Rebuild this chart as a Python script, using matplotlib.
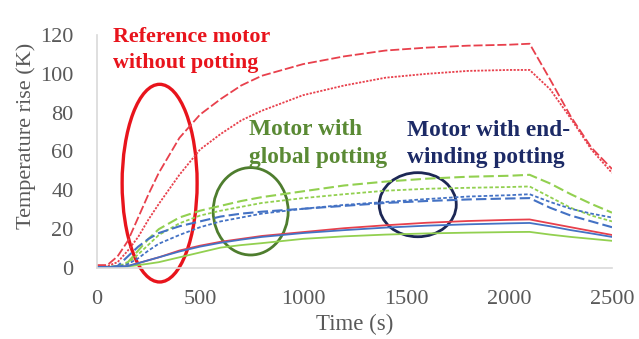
import matplotlib
matplotlib.use("Agg")
import matplotlib.pyplot as plt
from matplotlib.patches import Ellipse

plt.rcParams['font.family'] = ['Liberation Serif', 'DejaVu Serif']

# time grid (s)
t = [0, 50, 100, 150, 200, 250, 300, 400, 500, 600, 700, 800, 1000, 1200, 1400,
     1600, 1800, 2000, 2100, 2200, 2300, 2400, 2500]

# Reference motor without potting
ref_dash = [1.5, 1.5, 6, 14, 26, 38, 49, 67, 79, 87, 94, 99, 105, 109, 112,
            113.5, 114.5, 115, 115.5, 97, 78, 62, 51]
ref_dot = [1, 1, 3, 9, 16, 25, 33, 48, 61, 69, 76, 81, 89, 94, 98,
           100, 101.5, 102, 102, 92, 77, 61, 49]
ref_solid = [0.5, 0.5, 0.5, 1, 2.5, 4, 5.5, 9, 11.5, 13.5, 15, 16.5, 18.5, 20.5, 22,
             23.3, 24.2, 24.8, 25, 23, 21, 19, 17]

# Motor with global potting
glob_dash = [0.5, 0.5, 1, 3, 9, 15, 20, 26, 29.5, 32, 34.5, 36.5, 39.5, 42.5, 44.5,
             46, 47, 47.5, 48, 43.5, 38, 33, 28.5]
glob_dot = [0.5, 0.5, 1, 2.5, 7, 12, 17, 23, 27, 29.5, 31.5, 33.5, 36, 38, 39.8,
            40.8, 41.3, 41.7, 42, 36.5, 31, 27, 24]
glob_solid = [0.5, 0.5, 0.5, 0.8, 1.5, 2.2, 3, 5.5, 8, 10.5, 11.8, 12.8, 15, 16.3, 17.2,
              17.8, 18.2, 18.5, 18.6, 17.2, 16, 15, 14]

# Motor with end-winding potting
end_dash = [0.5, 0.5, 1, 6, 11, 15, 18, 21.5, 24, 26.5, 28, 29, 30.5, 32, 33.5,
            34.5, 35.3, 35.8, 36, 31, 27, 24, 21]
end_dot = [0.5, 0.5, 0.5, 2, 5, 9, 12.5, 17, 21, 24, 26, 28, 30.5, 32.5, 34,
           35.5, 36.8, 37.5, 38, 34, 30.5, 28, 26]
end_solid = [0.5, 0.5, 0.5, 1, 2.5, 4, 5.5, 8.5, 11, 13, 14.6, 16, 18, 19.5, 20.8,
             21.8, 22.5, 23, 23.2, 21.5, 19.5, 17.8, 16]

xticks = [0, 500, 1000, 1500, 2000, 2500]
yticks = [0, 20, 40, 60, 80, 100, 120]

RED = '#e8404c'
GREEN = '#92d050'
BLUE = '#4472c4'

fig = plt.figure(figsize=(6.39, 3.39), dpi=100)
ax = fig.add_axes([97/639, (339-268)/339, (612-97)/639, (268-35)/339])

lw = 1.3
ax.plot(t, ref_dash, color=RED, lw=lw, dashes=(5, 1.6))
ax.plot(t, ref_dot, color=RED, lw=lw, dashes=(1.2, 0.8))
ax.plot(t, ref_solid, color=RED, lw=lw)
ax.plot(t, glob_dash, color=GREEN, lw=lw + 0.2, dashes=(5, 2))
ax.plot(t, glob_dot, color=GREEN, lw=lw, dashes=(2, 1.2))
ax.plot(t, glob_solid, color=GREEN, lw=lw)
ax.plot(t, end_dash, color=BLUE, lw=lw + 0.2, dashes=(5, 2))
ax.plot(t, end_dot, color=BLUE, lw=lw, dashes=(2, 1.2))
ax.plot(t, end_solid, color=BLUE, lw=lw)

ax.set_xlim(0, 2500)
ax.set_ylim(0, 120)
ax.set_xticks(xticks)
ax.set_yticks(yticks)
ax.tick_params(length=0, labelsize=16, colors='#595959')
ax.tick_params(axis='x', pad=15.5)
ax.tick_params(axis='y', pad=17)
for s in ['top', 'right']:
    ax.spines[s].set_visible(False)
for s in ['left', 'bottom']:
    ax.spines[s].set_color('#d9d9d9')
    ax.spines[s].set_linewidth(1.2)

ax.set_xlabel('Time (s)', fontsize=16.5, color='#595959')
ax.set_ylabel('Temperature rise (K)', fontsize=16, color='#595959')
ax.xaxis.set_label_coords(0.5, (268 - 314) / 233)
ax.yaxis.set_label_coords((36 - 97) / 515, (268 - 136) / 233)

# annotation ellipses
ax.add_patch(Ellipse((304, 43.7), 364, 101.8, fill=False, ec='#e8141c', lw=2.4, clip_on=False))
ax.add_patch(Ellipse((746, 29.2), 364, 45, fill=False, ec='#4e7d2e', lw=2.0, clip_on=False))
ax.add_patch(Ellipse((1557, 32.6), 374, 33, fill=False, ec='#1c2755', lw=2.0, clip_on=False))

# annotation texts
tr = dict(fontsize=15.8, fontweight='bold', va='baseline', ha='left')
tg = dict(fontsize=16.8, fontweight='bold', va='baseline', ha='left')
ax.text(78, 116.3, 'Reference motor', color='#e8141c', **tr)
ax.text(78, 102.8, 'without potting', color='#e8141c', **tr)
ax.text(739, 68.7, 'Motor with', color='#5a8a34', **tg)
ax.text(739, 54.3, 'global potting', color='#5a8a34', **tg)
ax.text(1506, 68.2, 'Motor with end-', color='#1c2a66', **tg)
ax.text(1506, 54.3, 'winding potting', color='#1c2a66', **tg)

fig.savefig('out.png', dpi=100)
